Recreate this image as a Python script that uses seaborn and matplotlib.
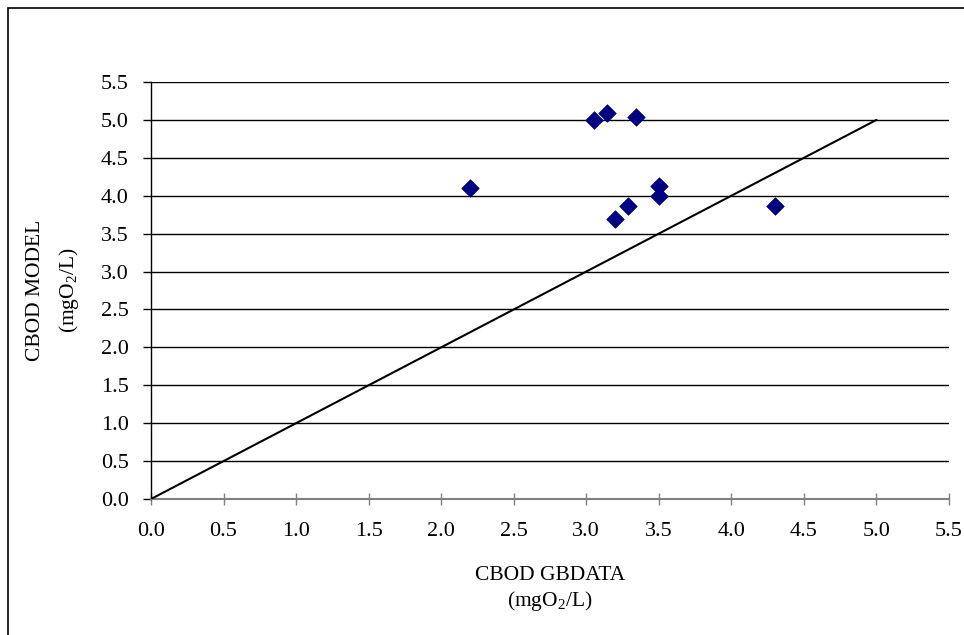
import matplotlib
matplotlib.use("Agg")
import matplotlib.pyplot as plt
import seaborn as sns
import numpy as np
import pandas as pd
from matplotlib.patches import Rectangle

# Data
cbod_gbdata = [2.2, 3.05, 3.14, 3.34, 3.5, 3.5, 3.29, 3.2, 4.3]
cbod_model = [4.10, 5.00, 5.09, 5.04, 4.13, 4.00, 3.87, 3.69, 3.87]
line_x = [0.0, 5.0]
line_y = [0.0, 5.0]
tick_values = [0.0, 0.5, 1.0, 1.5, 2.0, 2.5, 3.0, 3.5, 4.0, 4.5, 5.0, 5.5]
x_title = "CBOD GBDATA"
y_title = "CBOD MODEL"
unit_label = r"(mgO$_2$/L)"

sns.set_theme(style="white")
plt.rcParams['font.family'] = ['Liberation Serif', 'DejaVu Serif']
plt.rcParams['mathtext.fontset'] = 'custom'
plt.rcParams['mathtext.rm'] = 'Liberation Serif'
plt.rcParams['mathtext.default'] = 'regular'
plt.rcParams['text.color'] = 'black'

fig = plt.figure(figsize=(9.64, 6.35), dpi=100)
ax = fig.add_axes([151/964, 1-499/635, (949-151)/964, (499-82)/635])

df = pd.DataFrame({"x": cbod_gbdata, "y": cbod_model})
ldf = pd.DataFrame({"x": line_x, "y": line_y})

sns.lineplot(data=ldf, x="x", y="y", ax=ax, color="black", linewidth=1.5, zorder=3)
sns.scatterplot(data=df, x="x", y="y", ax=ax, marker="D", color="#000080",
                s=80, edgecolor="#000080", linewidth=0.5, zorder=4)

ax.set_xlim(0, 5.5)
ax.set_ylim(0, 5.5)
ax.set_xticks(tick_values)
ax.set_yticks(tick_values)
ax.set_xticklabels([f"{v:.1f}" for v in tick_values], fontsize=16)
ax.set_yticklabels([f"{v:.1f}" for v in tick_values], fontsize=16)
ax.tick_params(axis='y', direction='out', length=6, width=1, color='black',
               left=True, pad=10, labelcolor='black')
ax.tick_params(axis='x', direction='inout', length=9, width=1, color='#808080',
               bottom=True, pad=12, labelcolor='black')

for v in tick_values[1:]:
    ax.axhline(v, color='black', linewidth=1.0, zorder=1)

for side in ['top', 'right']:
    ax.spines[side].set_visible(False)
ax.spines['left'].set_visible(True)
ax.spines['left'].set_color('black')
ax.spines['left'].set_linewidth(1.0)
ax.spines['bottom'].set_visible(True)
ax.spines['bottom'].set_color('#808080')
ax.spines['bottom'].set_linewidth(1.5)

ax.set_xlabel("")
ax.set_ylabel("")

fig.text(550/964, 1-575/635, x_title, ha='center', va='center', fontsize=15.5)
fig.text(550/964, 1-601/635, unit_label, ha='center', va='center', fontsize=15.5)
fig.text(36/964, 1-290/635, y_title, ha='center', va='center', fontsize=15.5, rotation=90)
fig.text(69/964, 1-290/635, unit_label, ha='center', va='center', fontsize=15.5, rotation=90)

fig.patches.append(Rectangle((8/964, -0.1), 1.2, 1-8/635+0.1, transform=fig.transFigure,
                             fill=False, edgecolor='black', linewidth=1.2))

fig.savefig("out.png", dpi=100)
